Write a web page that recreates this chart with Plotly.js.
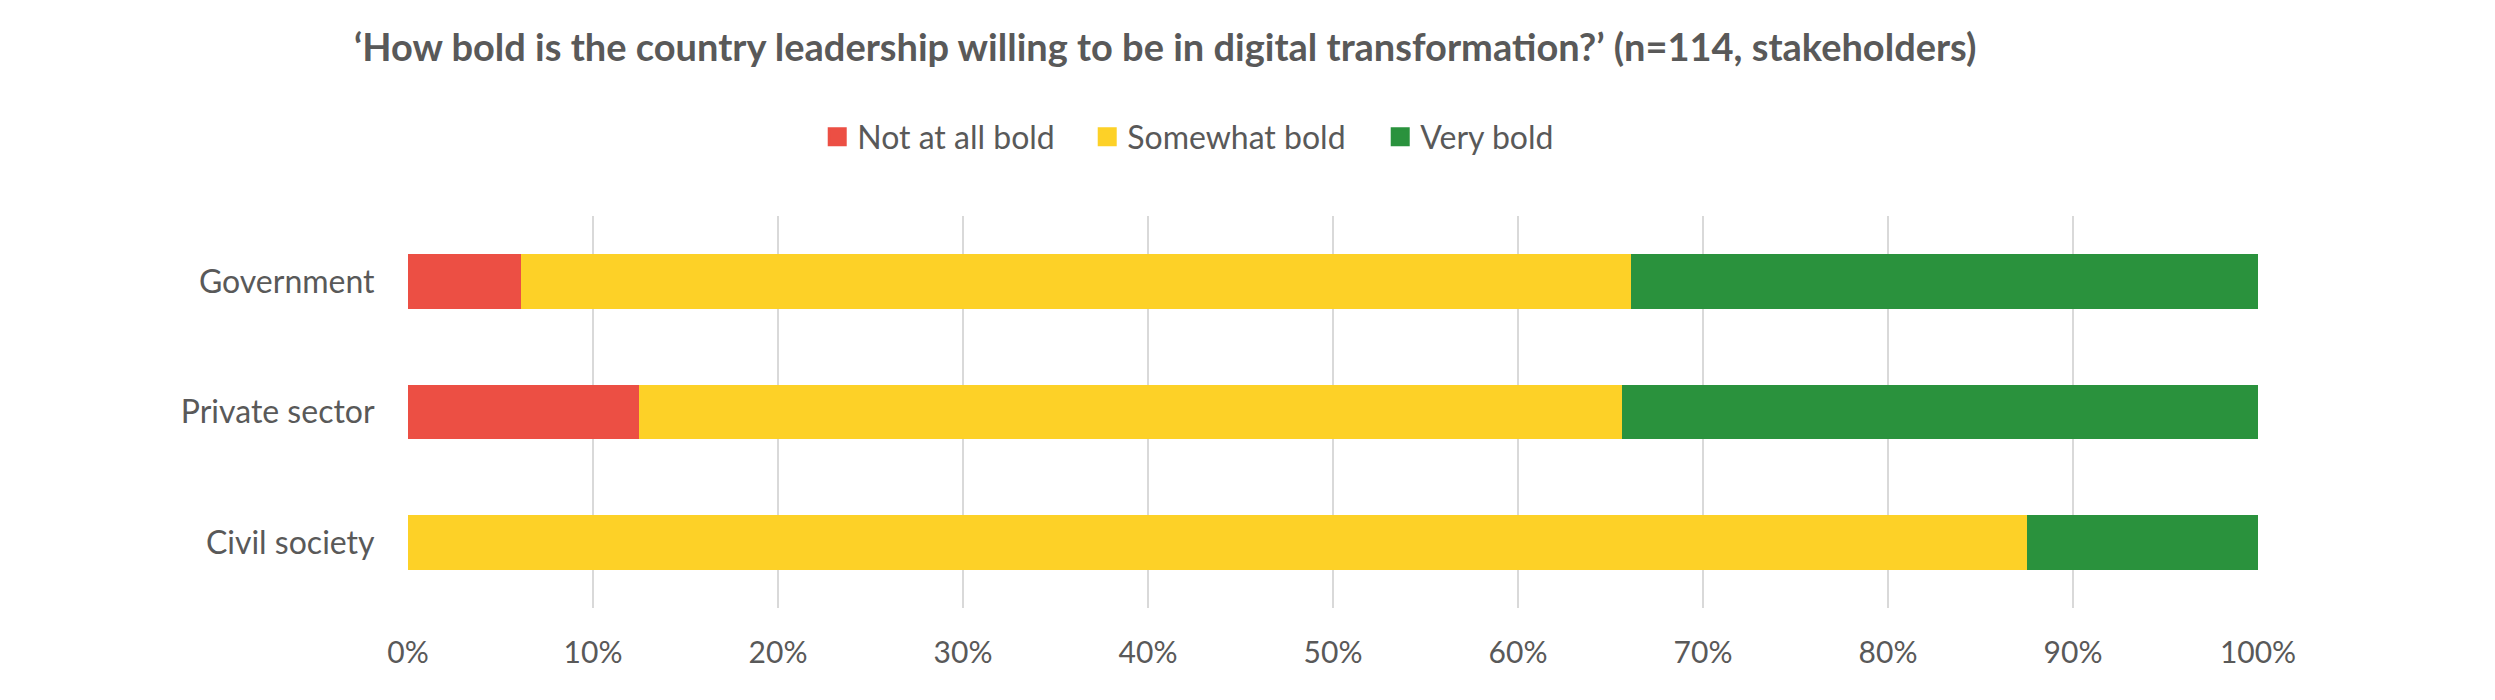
<!DOCTYPE html>
<html>
<head>
<meta charset="utf-8">
<script src="https://cdn.plot.ly/plotly-3.0.1.min.js"></script>
<style>html,body{margin:0;padding:0;background:#fff;}#chart{width:2495px;height:700px;}</style>
</head>
<body>
<div id="chart"></div>
<script>
const categories = ["Government", "Private sector", "Civil society"];
const seriesNames = ["Not at all bold", "Somewhat bold", "Very bold"];
const notAtAllBold = [6.1, 12.5, 0];
const somewhatBold = [60.0, 53.1, 87.5];
const veryBold = [33.9, 34.4, 12.5];
const tickValues = [0, 10, 20, 30, 40, 50, 60, 70, 80, 90, 100];
const tickLabels = ["0%", "10%", "20%", "30%", "40%", "50%", "60%", "70%", "80%", "90%", "100%"];
const colors = ["#EC4F44", "#FDD127", "#2A923D"];

const values = [notAtAllBold, somewhatBold, veryBold];
const legendWidths = [225, 248, null];
const textColor = "#595959";
const fontFamily = "Lato, 'Open Sans', sans-serif";

const barTraces = seriesNames.map((name, i) => ({
  type: "bar",
  orientation: "h",
  name: name,
  y: categories,
  x: values[i],
  marker: {color: colors[i], line: {width: 0}},
  showlegend: false,
  hoverinfo: "x+y+name"
}));

// legend-only proxies (no plotted marks) so the legend keys can be larger squares
const legendTraces = seriesNames.map((name, i) => {
  const t = {
    type: "scatter",
    mode: "markers",
    name: name,
    x: [null],
    y: [null],
    marker: {symbol: "square", size: 16, color: colors[i], line: {width: 3, color: colors[i]}},
    showlegend: true,
    hoverinfo: "skip"
  };
  if (legendWidths[i]) t.legendwidth = legendWidths[i];
  return t;
});

const layout = {
  width: 2495,
  height: 700,
  paper_bgcolor: "#ffffff",
  plot_bgcolor: "#ffffff",
  barmode: "stack",
  bargap: 0.58,
  margin: {l: 408, r: 237, t: 216, b: 92, pad: 0},
  font: {family: fontFamily, color: textColor, size: 31},
  title: {
    text: "<b>‘How bold is the country leadership willing to be in digital transformation?’ (n=114, stakeholders)</b>",
    font: {family: fontFamily, size: 38, color: textColor},
    x: 0.467, xref: "container", xanchor: "center",
    y: 1 - 48/700, yref: "container", yanchor: "middle"
  },
  legend: {
    orientation: "h",
    traceorder: "normal",
    x: 0.2212, xanchor: "left",
    y: 1.2015, yanchor: "middle",
    font: {family: fontFamily, size: 32, color: textColor},
    itemwidth: 30,
    borderwidth: 0
  },
  xaxis: {
    range: [0, 100],
    tickvals: tickValues,
    ticktext: tickLabels,
    showgrid: true,
    gridcolor: "#d9d9d9",
    gridwidth: 1.5,
    zeroline: false,
    showline: false,
    ticks: "outside",
    ticklen: 18,
    tickcolor: "rgba(0,0,0,0)",
    tickfont: {family: fontFamily, size: 30, color: textColor},
    fixedrange: true
  },
  yaxis: {
    autorange: "reversed",
    showgrid: false,
    zeroline: false,
    showline: false,
    ticks: "outside",
    ticklen: 26,
    tickcolor: "rgba(0,0,0,0)",
    tickfont: {family: fontFamily, size: 32, color: textColor},
    fixedrange: true
  },
  showlegend: true
};

Plotly.newPlot("chart", barTraces.concat(legendTraces), layout, {displayModeBar: false, staticPlot: true});
</script>
</body>
</html>
